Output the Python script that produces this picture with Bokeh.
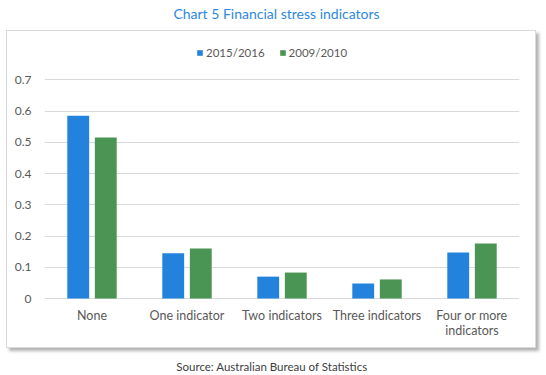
from bokeh.plotting import figure
from bokeh.models import (FactorRange, Range1d, ColumnDataSource, Legend, LegendItem,
                          FixedTicker, Label, InlineStyleSheet)
from bokeh.transform import dodge
from bokeh.embed import file_html
from bokeh.resources import INLINE

categories = ["None", "One indicator", "Two indicators", "Three indicators",
              "Four or more\nindicators"]
series_names = ["2015/2016", "2009/2010"]
values_2015 = [0.585, 0.145, 0.070, 0.048, 0.147]
values_2009 = [0.515, 0.160, 0.083, 0.061, 0.176]
y_ticks = [0, 0.1, 0.2, 0.3, 0.4, 0.5, 0.6, 0.7]
y_tick_labels = ["0", "0.1", "0.2", "0.3", "0.4", "0.5", "0.6", "0.7"]
title_text = "Chart 5 Financial stress indicators"
source_text = "Source: Australian Bureau of Statistics"

BLUE = "#2382dc"
GREEN = "#4a9454"
FONT = "Lato"

src = ColumnDataSource(dict(cat=categories, v2015=values_2015, v2009=values_2009))

H = 375
px_per_unit = 312.5
zero_y = 298  # canvas row of the value 0
y_start = -(H - zero_y) / px_per_unit
y_end = zero_y / px_per_unit

p = figure(width=546, height=H, output_backend="svg", toolbar_location=None,
           x_range=FactorRange(factors=categories, range_padding=0),
           y_range=Range1d(y_start, y_end),
           min_border_left=44, min_border_right=27,
           min_border_top=0, min_border_bottom=0)
p.outline_line_color = None
p.background_fill_color = None
p.border_fill_color = "white"

# chart box with drop shadow (drawn as a CSS overlay, border only)
p.stylesheets = [InlineStyleSheet(css="""
:host::after {
  content: '';
  position: absolute;
  left: 6px; top: 30px;
  width: 528px; height: 316px;
  border: 1px solid #d9d9d9;
  box-shadow: 3px 3px 3px rgba(0,0,0,0.30);
  pointer-events: none;
  z-index: 10;
}
""")]

# chart title and source note
p.add_layout(Label(x=2.442, y=(zero_y - 13) / px_per_unit, text=title_text,
                   text_align="center", text_baseline="middle",
                   text_font=FONT, text_font_size="14px", text_color="#2e88dc"))
p.add_layout(Label(x=2.395, y=-(366 - zero_y) / px_per_unit, text=source_text,
                   text_align="center", text_baseline="middle",
                   text_font=FONT, text_font_size="11.5px", text_color="#404040"))

r1 = p.vbar(x=dodge("cat", -0.145, range=p.x_range), top="v2015", width=0.23,
            source=src, fill_color=BLUE, line_color=None)
r2 = p.vbar(x=dodge("cat", 0.145, range=p.x_range), top="v2009", width=0.23,
            source=src, fill_color=GREEN, line_color=None)

p.yaxis.ticker = FixedTicker(ticks=y_ticks)
p.yaxis.major_label_overrides = {t: l for t, l in zip(y_ticks, y_tick_labels)}
p.yaxis.axis_line_color = None
p.yaxis.major_tick_line_color = None
p.yaxis.minor_tick_line_color = None
p.yaxis.major_tick_out = 0
p.yaxis.minor_tick_out = 0
p.yaxis.major_label_standoff = 13
p.yaxis.major_label_text_font = FONT
p.yaxis.major_label_text_font_size = "12px"
p.yaxis.major_label_text_color = "#595959"

p.xaxis.fixed_location = 0
p.xaxis.axis_line_color = None
p.xaxis.major_tick_line_color = None
p.xaxis.major_tick_out = 0
p.xaxis.major_label_standoff = 9
p.xaxis.major_label_text_font = FONT
p.xaxis.major_label_text_font_size = "12.5px"
p.xaxis.major_label_text_color = "#595959"
p.xaxis.major_label_text_line_height = 1.05

p.xgrid.grid_line_color = None
p.ygrid.ticker = FixedTicker(ticks=y_ticks)
p.ygrid.grid_line_color = "#d9d9d9"
p.ygrid.grid_line_width = 1

legend = Legend(items=[LegendItem(label=series_names[0], renderers=[r1]),
                       LegendItem(label=series_names[1], renderers=[r2])],
                orientation="horizontal", location=(152, H - zero_y + 239),
                border_line_color=None, background_fill_alpha=0,
                label_text_font=FONT, label_text_font_size="11.5px",
                label_text_color="#595959", glyph_width=7, glyph_height=7,
                label_standoff=3, spacing=14, margin=0, padding=4)
p.add_layout(legend)

open("out.html", "w").write(file_html(p, INLINE))
